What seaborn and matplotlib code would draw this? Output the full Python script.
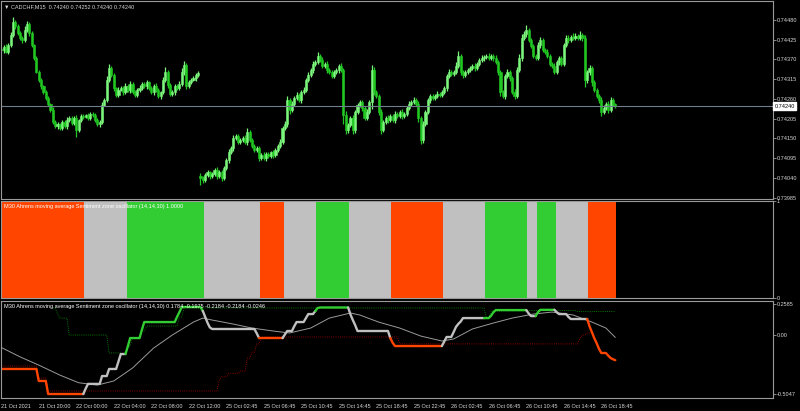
import numpy as np
import matplotlib
matplotlib.use('Agg')
import matplotlib.pyplot as plt
import matplotlib.transforms as mtransforms
import seaborn as sns

# ---- price data, M15 closes in points (1e-5) ----
closes = [
    74396, 74405, 74391, 74410, 74438, 74475, 74463, 74444, 74430, 74424,
    74452, 74469, 74444, 74410, 74374, 74335, 74313, 74296, 74279, 74263,
    74246, 74229, 74196, 74184, 74190, 74179, 74196, 74184, 74201, 74207,
    74193, 74207, 74173, 74201, 74212, 74210, 74215, 74207, 74218, 74215,
    74201, 74190, 74196, 74243, 74257, 74313, 74346, 74327, 74290, 74271,
    74285, 74290, 74279, 74296, 74285, 74302, 74279, 74271, 74285, 74290,
    74302, 74296, 74307, 74290, 74279, 74296, 74285, 74268, 74279, 74313,
    74335, 74299, 74274, 74279, 74296, 74290, 74302, 74335, 74355, 74296,
    74307, 74313, 74318, 74327, 74332,
    74039, 74034, 74048, 74056, 74045, 74051, 74062, 74045, 74056, 74039,
    74067, 74090, 74112, 74123, 74151, 74157, 74140, 74145, 74151, 74140,
    74168, 74145, 74129, 74117, 74123, 74095, 74104, 74095, 74106, 74101,
    74112, 74104, 74117, 74129, 74140, 74179, 74190, 74257, 74229, 74246,
    74263, 74271, 74257, 74279, 74285, 74313, 74327, 74341, 74357, 74363,
    74380, 74369, 74352, 74357, 74341, 74335, 74324, 74335, 74341, 74352,
    74341, 74215, 74173, 74187, 74207, 74173, 74224, 74243, 74251, 74235,
    74207, 74224, 74251, 74341, 74279, 74268, 74224, 74173, 74196, 74207,
    74201, 74212, 74201, 74218, 74212, 74224, 74212, 74218, 74235, 74246,
    74251, 74257, 74246, 74207, 74145, 74190, 74224, 74257, 74268, 74263,
    74268, 74274, 74271, 74279, 74290, 74324, 74335, 74330, 74335, 74352,
    74380, 74335, 74327, 74335, 74341, 74346, 74352, 74346, 74357, 74369,
    74374, 74377, 74380, 74374, 74380, 74374, 74363, 74335, 74279, 74268,
    74324, 74335, 74318, 74279, 74268, 74341, 74374, 74430, 74441, 74452,
    74424, 74408, 74380, 74374, 74410, 74424, 74396, 74391, 74380, 74357,
    74352, 74335, 74363, 74374, 74357, 74410, 74430, 74424, 74433, 74430,
    74436, 74430, 74438, 74430, 74313, 74335, 74346, 74307, 74285, 74268,
    74257, 74224, 74235, 74246, 74229, 74257, 74246, 74240,
]
first_open = 74400
gap_bar = 85          # weekend gap, new week opens here
gap_open = 74045

wick_hi = [
    6, 4, 8, 5, 9, 12, 5, 7, 4, 6, 10, 8, 5, 6, 4, 7, 5, 6, 4, 5,
    6, 4, 8, 5, 7, 4, 6, 5, 8, 4, 6, 5, 9, 4, 6, 5, 4, 7, 5, 6,
    5, 6, 4, 8, 6, 10, 12, 5, 6, 4, 7, 5, 6, 8, 5, 7, 4, 6, 5, 8,
    5, 6, 7, 4, 6, 5, 8, 6, 4, 9, 14, 5, 6, 7, 5, 6, 8, 10, 12, 5,
    6, 5, 7, 6, 5, 8, 6, 5, 7, 4, 6, 5, 8, 6, 5, 7, 6, 8, 5, 9,
    6, 5, 7, 6, 8, 10, 5, 6, 4, 7, 5, 6, 8, 5, 6, 4, 7, 6, 5, 8,
    6, 9, 12, 6, 8, 5, 7, 6, 5, 8, 6, 7, 5, 10, 6, 12, 5, 7, 6, 8,
    5, 6, 7, 5, 6, 8, 6, 10, 7, 6, 8, 5, 6, 7, 5, 6, 8, 6, 14, 7,
    6, 5, 8, 6, 5, 7, 6, 5, 7, 6, 5, 8, 6, 5, 7, 6, 8, 5, 7, 6,
    8, 6, 5, 7, 6, 5, 8, 6, 7, 5, 6, 8, 6, 7, 10, 14, 6, 5, 7, 6,
    5, 6, 7, 5, 6, 8, 6, 5, 7, 6, 5, 8, 6, 7, 5, 6, 8, 6, 5, 9,
    7, 10, 12, 8, 14, 6, 7, 5, 6, 10, 8, 6, 5, 7, 6, 5, 8, 6, 7, 5,
    6, 8, 7, 6, 10, 8, 6, 12, 7, 8, 6, 9, 7, 5, 6, 5, 7, 8, 6, 9,
    7, 5, 4,
]
wick_lo = [
    5, 7, 4, 6, 5, 4, 8, 6, 5, 7, 4, 6, 8, 5, 6, 4, 5, 7, 6, 5,
    6, 5, 7, 6, 8, 5, 6, 4, 7, 5, 6, 5, 18, 6, 5, 7, 4, 6, 5, 6,
    6, 5, 8, 6, 4, 5, 6, 7, 8, 5, 6, 4, 7, 5, 6, 8, 5, 6, 7, 5,
    6, 5, 7, 6, 4, 8, 6, 5, 7, 6, 5, 8, 6, 5, 7, 6, 5, 6, 7, 8,
    5, 6, 4, 7, 6, 20, 8, 6, 5, 7, 6, 5, 8, 6, 7, 5, 6, 8, 5, 7,
    6, 5, 7, 5, 6, 8, 5, 7, 6, 5, 8, 6, 5, 7, 6, 5, 8, 6, 5, 7,
    6, 5, 8, 10, 6, 7, 5, 6, 8, 5, 7, 6, 5, 8, 6, 5, 7, 6, 5, 8,
    6, 5, 7, 6, 8, 5, 25, 12, 8, 6, 10, 7, 6, 5, 8, 6, 7, 5, 18, 7,
    6, 8, 10, 6, 5, 7, 6, 5, 8, 6, 5, 7, 6, 5, 6, 7, 5, 6, 12, 10,
    8, 6, 5, 7, 6, 5, 6, 7, 5, 6, 8, 6, 5, 7, 6, 5, 7, 8, 6, 5,
    6, 5, 7, 6, 5, 6, 7, 5, 6, 5, 7, 6, 8, 10, 6, 7, 5, 8, 6, 7,
    6, 5, 7, 6, 8, 5, 6, 7, 5, 6, 8, 6, 7, 5, 6, 7, 5, 6, 8, 6,
    5, 6, 7, 5, 6, 7, 5, 6, 8, 20, 8, 7, 10, 6, 5, 8, 12, 7, 6, 8,
    6, 5, 4,
]
last_price = 0.74240
price_ticks = [0.73985, 0.74040, 0.74095, 0.74150, 0.74205,
               0.74260, 0.74315, 0.74370, 0.74425, 0.74480]

# ---- sentiment zone (histogram) as runs of bars ----
zone_state = ['down', 'flat', 'up', 'flat', 'down', 'flat', 'up', 'flat',
              'down', 'flat', 'up', 'flat', 'up', 'flat', 'down']
zone_len = [36, 18, 33, 24, 10, 14, 14, 18, 22, 18, 18, 4, 8, 14, 12]
zone_colors = {'down': '#FF4500', 'flat': '#C0C0C0', 'up': '#32CD32'}

# ---- oscillator main line (run-length: value, bars) ----
osc_val = [-0.293, -0.395, -0.506, -0.46, -0.42, -0.353, -0.293, -0.23, -0.166,
           -0.10, -0.03, 0.04, 0.106, 0.15, 0.19, 0.234, 0.20, 0.15, 0.10, 0.06,
           0.047, 0.01, -0.03,
           0.0, 0.03, 0.07, 0.106, 0.14, 0.174, 0.20, 0.226, 0.23, 0.17, 0.123,
           0.08, 0.03, -0.03, -0.07, -0.098, -0.06, -0.021, 0.02, 0.064, 0.09,
           0.11, 0.14, 0.16, 0.19, 0.208, 0.18, 0.157, 0.19, 0.21, 0.19, 0.174,
           0.15, 0.132, 0.07, 0.021, -0.03, -0.072, -0.12, -0.157, -0.18, -0.20,
           -0.21, -0.2184]
osc_len = [16, 4, 16, 1, 6, 3, 4, 1, 3, 1, 5, 1, 14, 1, 1, 9, 1, 1, 1, 1, 19, 1, 11,
           1, 3, 1, 4, 1, 3, 1, 1, 13, 1, 1, 1, 14, 1, 1, 21, 1, 3, 1, 1, 1, 1, 12,
           1, 1, 14, 1, 3, 1, 7, 1, 4, 1, 8, 1, 1, 1, 1, 1, 3, 1, 1, 1, 1]

# signal line (smoothed), read at a few bars
sig_bars = [0, 8, 16, 25, 33, 41, 48, 56, 65, 73, 82, 86, 90, 99, 107, 116, 123,
            132, 140, 149, 153, 161, 170, 179, 188, 193, 201, 210, 218, 227, 235,
            244, 252, 258, 262]
sig_vals = [-0.11, -0.19, -0.26, -0.345, -0.41, -0.43, -0.395, -0.285, -0.115,
            -0.004, 0.106, 0.14, 0.123, 0.089, 0.055, 0.03, 0.013, 0.055, 0.14,
            0.183, 0.166, 0.106, 0.055, -0.013, -0.055, -0.038, 0.047, 0.098,
            0.14, 0.174, 0.191, 0.166, 0.106, 0.055, -0.0246]

# upper level (green dotted), starts at bar 22
up_start = 22
up_val = [0.226, 0.18, 0.14, -0.004, -0.157, -0.166, -0.10, -0.03, 0.03, 0.072,
          0.15, 0.226, 0.14, 0.20, 0.205, 0.195]
up_len = [2, 1, 4, 17, 6, 2, 2, 4, 2, 14, 2, 129, 2, 16, 21, 17]

# lower level (red dotted), starts at bar 0
lo_val = [-0.268, -0.37, -0.48, -0.387, -0.36, -0.33, -0.31, -0.2, -0.15, -0.08,
          -0.021, -0.08, -0.03, -0.004, 0.013]
lo_len = [16, 4, 73, 1, 3, 5, 3, 2, 2, 2, 59, 77, 1, 2, 3]

time_labels = ['21 Oct 2021', '21 Oct 20:00', '22 Oct 00:00', '22 Oct 04:00',
               '22 Oct 08:00', '22 Oct 12:00', '25 Oct 02:45', '25 Oct 06:45',
               '25 Oct 10:45', '25 Oct 14:45', '25 Oct 18:45', '25 Oct 22:45',
               '26 Oct 02:45', '26 Oct 06:45', '26 Oct 10:45', '26 Oct 14:45',
               '26 Oct 18:45']

# ---- style ----
txt = '#d8d8d8'
edge = '#9a9a9a'
sns.set_style('dark', {'axes.facecolor': 'black', 'figure.facecolor': 'black',
                       'axes.edgecolor': edge, 'axes.grid': False,
                       'xtick.color': edge, 'ytick.color': edge,
                       'text.color': txt})
plt.rcParams['font.family'] = ['Liberation Sans', 'DejaVu Sans']
plt.rcParams['axes.linewidth'] = 0.8
fs = 4.0

fig = plt.figure(figsize=(8, 4.11), dpi=100)
ax1 = fig.add_axes([0.001, 0.5158, 0.965, 0.4818])
ax2 = fig.add_axes([0.001, 0.2749, 0.965, 0.236], sharex=ax1)
ax3 = fig.add_axes([0.001, 0.0316, 0.965, 0.236], sharex=ax1)

n = len(closes)
bars = np.arange(n)

# ---- candles ----
opens = [first_open] + closes[:gap_bar - 1] + [gap_open] + closes[gap_bar:-1]
c = np.array(closes) / 1e5
o = np.array(opens) / 1e5
body_lo = np.minimum(o, c)
body_hi = np.maximum(o, c)
hi = body_hi + np.array(wick_hi) / 1e5
lo = body_lo - np.array(wick_lo) / 1e5
col_up, col_dn = '#7CF57C', '#22C822'
cols = np.where(c >= o, col_up, col_dn)
ax1.vlines(bars, lo, hi, colors=cols, lw=0.9)
ax1.bar(bars, body_hi - body_lo, bottom=body_lo, width=0.9, color=cols,
        edgecolor=cols, lw=0.4)
ax1.axhline(last_price, color='#6f7d8c', lw=0.8)

ax1.set_ylim(0.73981, 0.74533)
ax1.set_yticks(price_ticks)
ax1.set_yticklabels([f'{p:.5f}' for p in price_ticks])
ax1.text(0.004, 0.985, '▼ CADCHF,M15  0.74240 0.74252 0.74240 0.74240',
         transform=ax1.transAxes, va='top', ha='left', fontsize=fs, color=txt)
ax1.text(1.0025, last_price, '0.74240', fontsize=fs, color='black', va='center',
         ha='left', transform=mtransforms.blended_transform_factory(ax1.transAxes, ax1.transData),
         bbox=dict(boxstyle='square,pad=0.25', fc='white', ec='white'))

# ---- zone histogram ----
zstate = np.repeat(zone_state, zone_len)
ax2.bar(bars, np.ones(n), width=1.0, color=[zone_colors[s] for s in zstate], lw=0)
ax2.set_ylim(0, 1)
ax2.set_yticks([1, 0])
ax2.set_yticklabels(['1', '0'])
ax2.get_yticklabels()[0].set_va('top')
ax2.get_yticklabels()[1].set_va('bottom')
ax2.text(0.004, 0.965,
         'M30 Ahrens moving average Sentiment zone oscillator (14,14,30) 1.0000',
         transform=ax2.transAxes, va='top', ha='left', fontsize=fs, color='white')

# ---- oscillator panel ----
osc = np.repeat(osc_val, osc_len)
upper = np.repeat(up_val, up_len)
lower = np.repeat(lo_val, lo_len)
dots = (0, (1, 1.6))
ax3.plot(np.arange(up_start, up_start + len(upper)), upper, color='#00A000',
         lw=0.6, ls=dots)
ax3.plot(np.arange(len(lower)), lower, color='#C00000', lw=0.6, ls=dots)
sns.lineplot(x=sig_bars, y=sig_vals, ax=ax3, color='#9a9a9a', lw=0.7)
start = 0
for st, ln in zip(zone_state, zone_len):
    a = max(start - 1, 0)
    b = start + ln
    sns.lineplot(x=bars[a:b], y=osc[a:b], ax=ax3, color=zone_colors[st], lw=1.7)
    start = b
ax3.set_ylim(-0.54, 0.285)
ax3.set_yticks([0.2585, 0.0, -0.5047])
ax3.set_yticklabels(['0.2585', '0.00', '-0.5047'])
ax3.text(0.004, 0.965,
         'M30 Ahrens moving average Sentiment zone oscillator (14,14,30) '
         '0.1784 -0.1975 -0.2184 -0.2184 -0.0246',
         transform=ax3.transAxes, va='top', ha='left', fontsize=fs, color='white')

# ---- axes cosmetics ----
ax3.set_xlim(-0.2, 329.2)
ax3.set_xticks(np.arange(0, 16 * len(time_labels), 16))
ax3.set_xticklabels(time_labels)
offset = mtransforms.ScaledTranslation(1.5 / 100, 0, fig.dpi_scale_trans)
for lab in ax3.get_xticklabels():
    lab.set_ha('left')
    lab.set_transform(lab.get_transform() + offset)
for ax in (ax1, ax2, ax3):
    ax.set_xlabel('')
    ax.set_ylabel('')
    ax.yaxis.tick_right()
    ax.tick_params(axis='y', length=2, width=0.6, pad=1, labelsize=fs,
                   labelcolor=txt, color=edge)
    ax.tick_params(axis='x', length=3, width=0.6, pad=1.5, labelsize=fs,
                   labelcolor=txt, color=edge)
    for sp in ax.spines.values():
        sp.set_color(edge)
        sp.set_linewidth(0.8)
for ax in (ax1, ax2):
    ax.tick_params(axis='x', bottom=False, labelbottom=False)

fig.savefig('out.png', dpi=100, facecolor='black')
